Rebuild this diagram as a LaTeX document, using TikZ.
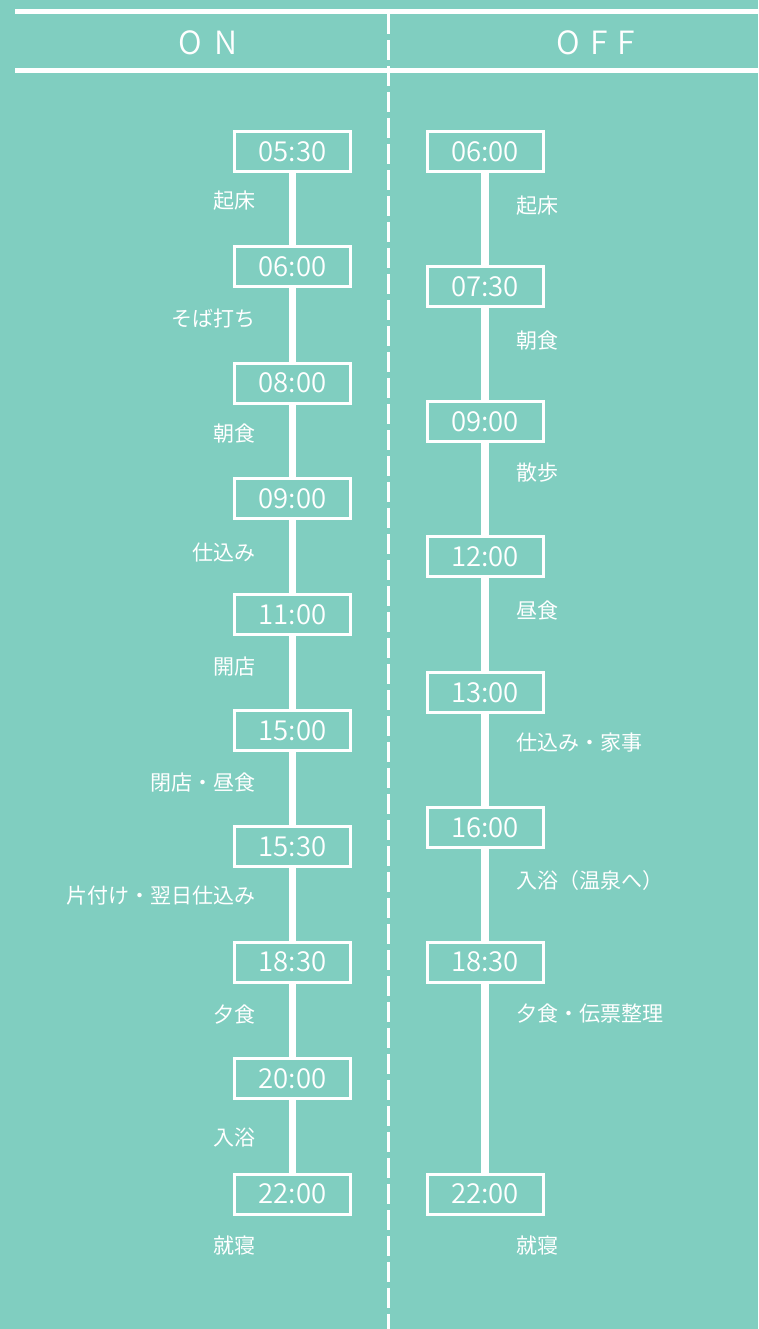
\documentclass[tikz,border=0pt]{standalone}
\usepackage{fontspec}
\newfontfamily\jpfont{Noto Sans CJK JP}
\IfFontExistsTF{Noto Sans CJK JP DemiLight}{%
  \newfontfamily\timefont{Noto Sans CJK JP DemiLight}%
  \newfontfamily\hdrfont{Noto Sans CJK JP DemiLight}%
}{%
  \newfontfamily\timefont{Lato}%
  \newfontfamily\hdrfont{Lato}%
}
\definecolor{bg}{RGB}{128,206,192}
\begin{document}
\begin{tikzpicture}[x=1pt,y=-1pt,
  timebox/.style={draw=white, line width=3pt, fill=bg, minimum width=116pt, minimum height=40pt, inner sep=0pt, text=white, font=\timefont\fontsize{27.5}{30}\selectfont},
  stemline/.style={draw=white, line width=7.5pt},
  hline/.style={draw=white, line width=5pt},
  divider/.style={draw=white, line width=2.5pt, dash pattern=on 20pt off 6pt},
  lbl/.style={text=white, inner sep=0pt, text height=18pt, text depth=2pt, font=\jpfont\fontsize{21}{25}\selectfont},
  lblL/.style={lbl, anchor=east},
  lblR/.style={lbl, anchor=west},
  hdr/.style={text=white, inner sep=0pt, font=\hdrfont\fontsize{32}{36}\selectfont}
]
\fill[bg] (0,0) rectangle (758,1329);
\useasboundingbox (0,0) rectangle (758,1329);

% divider and header
\coordinate (dtop) at (388.7,14);
\coordinate (dbot) at (388.7,1329);
\draw[divider] (dtop) -- (dbot);
\coordinate (h1a) at (15,11.5); \coordinate (h1b) at (758,11.5);
\coordinate (h2a) at (15,70.5); \coordinate (h2b) at (758,70.5);
\draw[hline] (h1a) -- (h1b);
\draw[hline] (h2a) -- (h2b);
\node[hdr] (on) at (208,43) {O\hspace{13pt}N};
\node[hdr] (off) at (596,43) {O\hspace{10pt}F\hspace{10pt}F};

% ON column boxes
\node[timebox] (L1) at (292.5,151.5) {05:30};
\node[timebox] (L2) at (292.5,267) {06:00};
\node[timebox] (L3) at (292.5,383) {08:00};
\node[timebox] (L4) at (292.5,498.5) {09:00};
\node[timebox] (L5) at (292.5,614.5) {11:00};
\node[timebox] (L6) at (292.5,730.5) {15:00};
\node[timebox] (L7) at (292.5,846.5) {15:30};
\node[timebox] (L8) at (292.5,962) {18:30};
\node[timebox] (L9) at (292.5,1078.5) {20:00};
\node[timebox] (L10) at (292.5,1194) {22:00};

% OFF column boxes
\node[timebox] (R1) at (485,151.5) {06:00};
\node[timebox] (R2) at (485,286.5) {07:30};
\node[timebox] (R3) at (485,421.5) {09:00};
\node[timebox] (R4) at (485,556.5) {12:00};
\node[timebox] (R5) at (485,692.5) {13:00};
\node[timebox] (R6) at (485,827.5) {16:00};
\node[timebox] (R7) at (485,962) {18:30};
\node[timebox] (R8) at (485,1194) {22:00};

% stems
\foreach \a/\b in {L1/L2,L2/L3,L3/L4,L4/L5,L5/L6,L6/L7,L7/L8,L8/L9,L9/L10,
                   R1/R2,R2/R3,R3/R4,R4/R5,R5/R6,R6/R7,R7/R8}
  \draw[stemline] ([yshift=2pt]\a.south) -- ([yshift=-2pt]\b.north);

% ON labels
\node[lblL] (la1) at (256,201) {起床};
\node[lblL] (la2) at (256,318) {そば打ち};
\node[lblL] (la3) at (256,433) {朝食};
\node[lblL] (la4) at (256,552) {仕込み};
\node[lblL] (la5) at (256,666) {開店};
\node[lblL] (la6) at (256,782) {閉店・昼食};
\node[lblL] (la7) at (256,895) {片付け・翌日仕込み};
\node[lblL] (la8) at (256,1014) {夕食};
\node[lblL] (la9) at (256,1137) {入浴};
\node[lblL] (la10) at (256,1245) {就寝};

% OFF labels
\node[lblR] (ra1) at (516,206) {起床};
\node[lblR] (ra2) at (516,340) {朝食};
\node[lblR] (ra3) at (516,472) {散歩};
\node[lblR] (ra4) at (516,610) {昼食};
\node[lblR] (ra5) at (516,742) {仕込み・家事};
\node[lblR] (ra6) at (516,880) {入浴（温泉へ）};
\node[lblR] (ra7) at (516,1013) {夕食・伝票整理};
\node[lblR] (ra8) at (516,1245) {就寝};
\end{tikzpicture}
\end{document}
